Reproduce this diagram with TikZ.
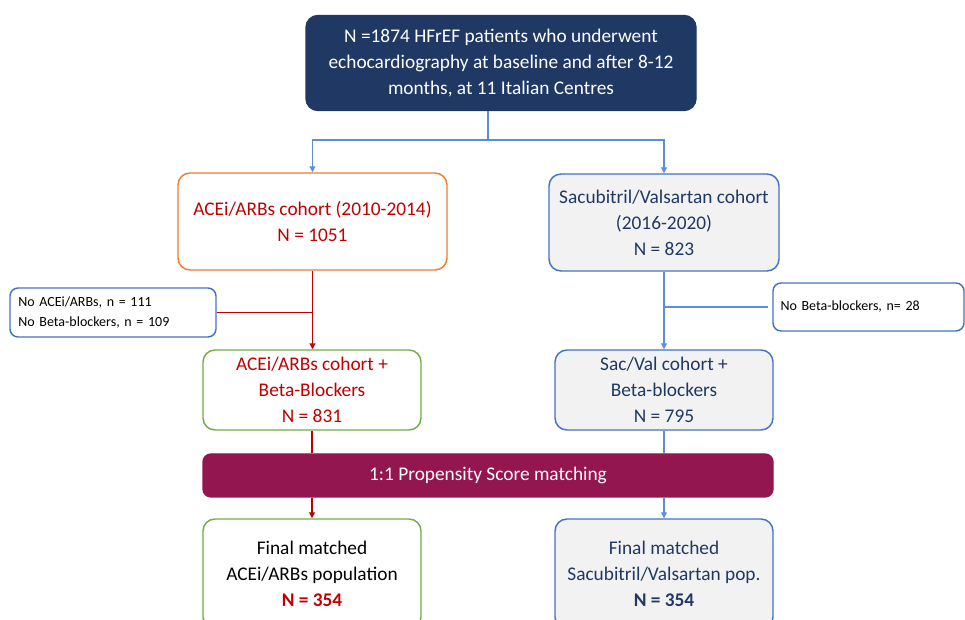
\documentclass[tikz,border=0pt]{standalone}
\usepackage{fontspec}
\setmainfont{Carlito}
\usetikzlibrary{arrows.meta,calc}
\definecolor{navy}{HTML}{1F3864}
\definecolor{orng}{HTML}{ED7D31}
\definecolor{dred}{HTML}{C00000}
\definecolor{bblue}{HTML}{4472C4}
\definecolor{lblue}{HTML}{5B8DDB}
\definecolor{lgray}{HTML}{F2F2F2}
\definecolor{grn}{HTML}{70AD47}
\definecolor{maroon}{HTML}{941651}
\tikzset{
  x=0.75pt, y=-0.75pt,
  box/.style={draw, line width=1.1pt, rounded corners=9pt, align=center, inner sep=2pt,
    font=\fontsize{14.5}{19.5}\selectfont},
  exbox/.style={draw=bblue, fill=white, line width=1.1pt, rounded corners=6pt, align=left,
    inner sep=2pt, font=\fontsize{10.5}{15.5}\selectfont},
  tip/.style={-{Triangle[length=4.5pt,width=4.5pt]}},
  redln/.style={draw=dred, line width=0.8pt},
  blueln/.style={draw=lblue, line width=0.8pt}
}
\begin{document}
\begin{tikzpicture}
\useasboundingbox (0,0) rectangle (965,620);
\clip (0,0) rectangle (965,620);
\node[box, fill=navy, draw=navy, text=white, minimum width=292.5pt, minimum height=71.25pt] (top) at (501,63)
  {N =1874 HFrEF patients who underwent\\echocardiography at baseline and after 8-12\\months, at 11 Italian Centres};
\node[box, draw=orng, fill=white, text=dred, minimum width=201.75pt, minimum height=72.75pt] (acei) at (312.5,221.5)
  {ACEi/ARBs cohort (2010-2014)\\N = 1051};
\node[box, draw=bblue, fill=lgray, text=navy, minimum width=172.5pt, minimum height=72.75pt] (sac) at (664,222.5)
  {Sacubitril/Valsartan cohort\\(2016-2020)\\N = 823};
\node[exbox, minimum width=154.5pt, minimum height=36.75pt, text width=142pt] (exl) at (113,312.5)
  {No ACEi/ARBs, n = 111\\No Beta-blockers, n = 109};
\node[exbox, minimum width=143.25pt, minimum height=36pt, text width=132pt] (exr) at (868.5,307)
  {No Beta-blockers, n= 28};
\node[box, draw=grn, fill=white, text=dred, minimum width=163.5pt, minimum height=60pt] (bbl) at (312,390)
  {ACEi/ARBs cohort +\\Beta-Blockers\\N = 831};
\node[box, draw=bblue, fill=lgray, text=navy, minimum width=163.5pt, minimum height=60pt] (bbr) at (664,390)
  {Sac/Val cohort +\\Beta-blockers\\N = 795};
\node[box, draw=maroon, fill=maroon, text=white, rounded corners=6pt, minimum width=427.5pt, minimum height=32.25pt] (bar) at (488,475.5)
  {1:1 Propensity Score matching};
\node[box, draw=grn, fill=white, text=black, minimum width=163.5pt, minimum height=82.5pt] (finl) at (312,574)
  {Final matched\\ACEi/ARBs population\\{\bfseries\color{dred}N = 354}};
\node[box, draw=bblue, fill=lgray, text=navy, minimum width=163.5pt, minimum height=82.5pt] (finr) at (664,574)
  {Final matched\\Sacubitril/Valsartan pop.\\{\bfseries N = 354}};
% connectors top
\coordinate (j) at (488,140);
\draw[blueln] (top.south -| j) -- (j);
\draw[blueln, tip] (j) -| (acei.north);
\draw[blueln, tip] (j) -| (sac.north);
% left branch
\draw[redln, tip] (acei.south) -- (acei.south |- bbl.north);
\draw[redln] (exl.east) -- (exl.east -| acei.south);
\draw[redln] (bbl.south) -- (bbl.south |- bar.north);
\draw[redln, tip] (bbl.south |- bar.south) -- (finl.north);
% right branch
\draw[blueln, tip] (sac.south) -- (bbr.north);
\draw[blueln] ($(exr.west)+(-4,0)$) -- (exr.west -| sac.south);
\draw[blueln] (bbr.south) -- (bbr.south |- bar.north);
\draw[blueln, tip] (bbr.south |- bar.south) -- (finr.north);
\end{tikzpicture}
\end{document}
